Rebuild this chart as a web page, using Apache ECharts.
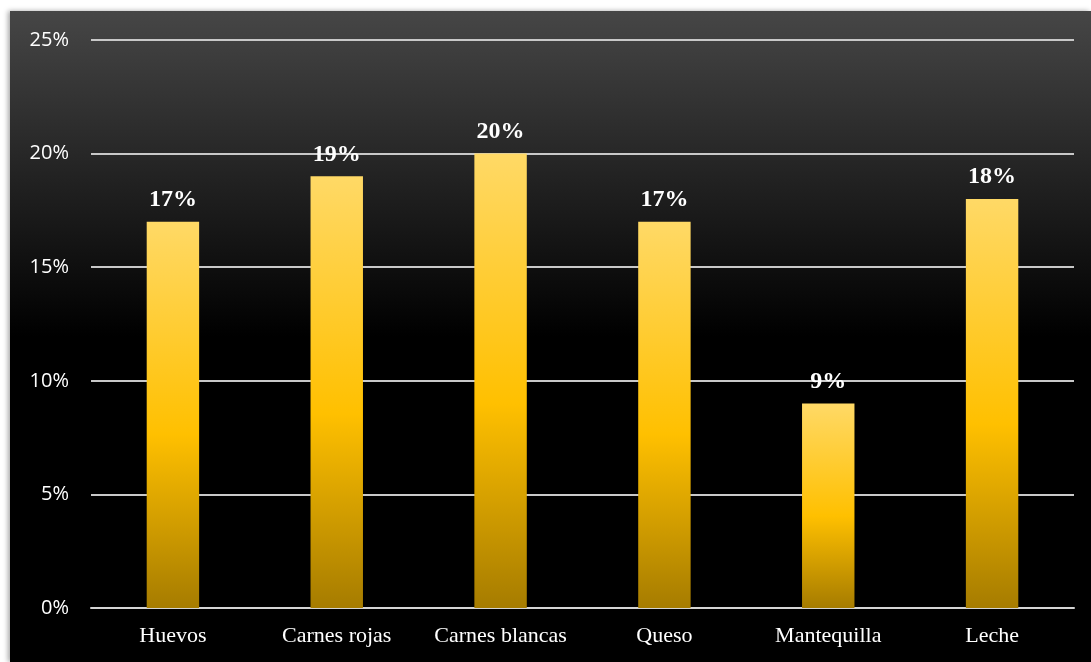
<!DOCTYPE html>
<html>
<head>
<meta charset="utf-8">
<script src="https://cdn.jsdelivr.net/npm/echarts@6/dist/echarts.min.js"></script>
<style>
  html, body { margin: 0; padding: 0; background: #ffffff; width: 1091px; height: 662px; overflow: hidden; }
  #panel {
    position: absolute; left: 10px; top: 11px; width: 1081px; height: 651px;
    box-shadow: -2px 0 5px rgba(0,0,0,0.35);
  }
</style>
</head>
<body>
<div id="panel"></div>
<script>
// Food categories and their share (%)
const categories = ['Huevos', 'Carnes rojas', 'Carnes blancas', 'Queso', 'Mantequilla', 'Leche'];
const shares = [17, 19, 20, 17, 9, 18];
const yTicks = { min: 0, max: 25, interval: 5 };

const chart = echarts.init(document.getElementById('panel'));

chart.setOption({
  backgroundColor: new echarts.graphic.LinearGradient(0, 0, 0, 1, [
    { offset: 0, color: '#464646' },
    { offset: 0.5, color: '#000000' },
    { offset: 1, color: '#000000' }
  ]),
  grid: { left: 81, right: 17, top: 29, bottom: 54 },
  xAxis: {
    type: 'category',
    data: categories,
    axisLine: { show: true, lineStyle: { color: '#d4d4d4', width: 2 } },
    axisTick: { show: false },
    axisLabel: {
      interval: 0,
      color: '#ffffff',
      fontFamily: '"Liberation Serif", "DejaVu Serif", serif',
      fontSize: 22,
      margin: 17
    }
  },
  yAxis: {
    type: 'value',
    min: yTicks.min,
    max: yTicks.max,
    interval: yTicks.interval,
    axisLine: { show: false },
    axisTick: { show: false },
    splitLine: { lineStyle: { color: '#c8c8c8', width: 2 } },
    axisLabel: {
      color: '#ffffff',
      fontFamily: '"Open Sans", "Liberation Sans", sans-serif',
      fontSize: 20,
      margin: 22,
      formatter: v => v + '%'
    }
  },
  series: [{
    type: 'bar',
    data: shares,
    barWidth: '32%',
    itemStyle: {
      color: new echarts.graphic.LinearGradient(0, 0, 0, 1, [
        { offset: 0, color: '#ffd966' },
        { offset: 0.55, color: '#ffc000' },
        { offset: 1, color: '#a67c00' }
      ])
    },
    label: {
      show: true,
      position: 'top',
      distance: 10,
      color: '#ffffff',
      fontFamily: '"Liberation Serif", "DejaVu Serif", serif',
      fontWeight: 'bold',
      fontSize: 24,
      formatter: p => p.value + '%'
    }
  }],
  animation: false
});
</script>
</body>
</html>
